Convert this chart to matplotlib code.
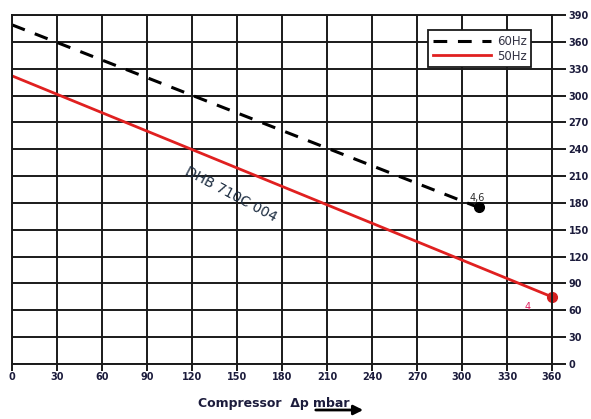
import numpy as np
import matplotlib.pyplot as plt
from matplotlib.patches import FancyArrowPatch

# Data
dp = [0, 311]
flow_60 = [379, 175]
dp_50 = [0, 360]
flow_50 = [322, 75]
x_ticks = list(range(0, 361, 30))
y_ticks = list(range(0, 391, 30))

txt = '#1c1c3c'

fig = plt.figure(figsize=(5.91, 4.19), dpi=100)
ax = fig.add_axes([12/591, 1-364/419, 540/591, 349/419])

ax.set_xlim(0, 360)
ax.set_ylim(0, 390)
ax.set_xticks(x_ticks)
ax.set_yticks(y_ticks)
ax.grid(True, color='#1a1a1a', linewidth=1.4)
ax.set_axisbelow(True)
for s in ax.spines.values():
    s.set_color('#1a1a1a')
    s.set_linewidth(1.4)

ax.yaxis.tick_right()
ax.tick_params(axis='y', length=10, width=1.4, color='#1a1a1a', labelsize=7,
               labelcolor=txt, pad=2)
ax.tick_params(axis='x', length=5, width=1.4, color='#1a1a1a', labelsize=7,
               labelcolor=txt, pad=1)
for lab in ax.get_xticklabels() + ax.get_yticklabels():
    lab.set_fontweight('semibold')

ax.plot(dp, flow_60, color='black', linestyle=(0, (4.5, 3.5)), linewidth=2.2, label='60Hz')
ax.plot(dp_50, flow_50, color='#e02020', linewidth=2, label='50Hz')
ax.plot(dp[1], flow_60[1], 'o', color='black', markersize=7, clip_on=False)
ax.plot(dp_50[1], flow_50[1], 'o', color='#d42020', markersize=7, clip_on=False)

ax.text(dp[1] - 1, flow_60[1] + 5, '4,6', fontsize=7, color='#2a2a2a', ha='center', va='bottom')
ax.text(dp_50[1] - 16, flow_50[1] - 6, '4', fontsize=7, color='#e02060', ha='center', va='top')

ax.text(146, 190, 'DHB 710C 004', fontsize=10, color='#1c2c40', rotation=-28,
        ha='center', va='center', rotation_mode='anchor')

leg = ax.legend(loc='upper right', bbox_to_anchor=(0.962, 0.957), fontsize=8.5,
                frameon=True, fancybox=False, edgecolor='#1a1a1a', framealpha=1,
                handlelength=4.9, borderpad=0.4, labelspacing=0.15, handletextpad=0.5,
                borderaxespad=0)
leg.get_frame().set_linewidth(1.3)
for t in leg.get_texts():
    t.set_color('#333344')

# x axis label with arrow
y_lab = 1 - 403/419
fig.text(198/591, y_lab, 'Compressor  Δp', fontsize=9, color=txt, ha='left', va='center',
         fontweight='semibold')
fig.text(313/591, y_lab, 'mbar', fontsize=9, color=txt, ha='left', va='center',
         fontweight='semibold')
fig.add_artist(FancyArrowPatch(
    (313/591, 1-410/419), (366/591, 1-410/419), transform=fig.transFigure,
    arrowstyle='-|>', mutation_scale=14, color='black', linewidth=2))

fig.savefig('out.png', dpi=100)
